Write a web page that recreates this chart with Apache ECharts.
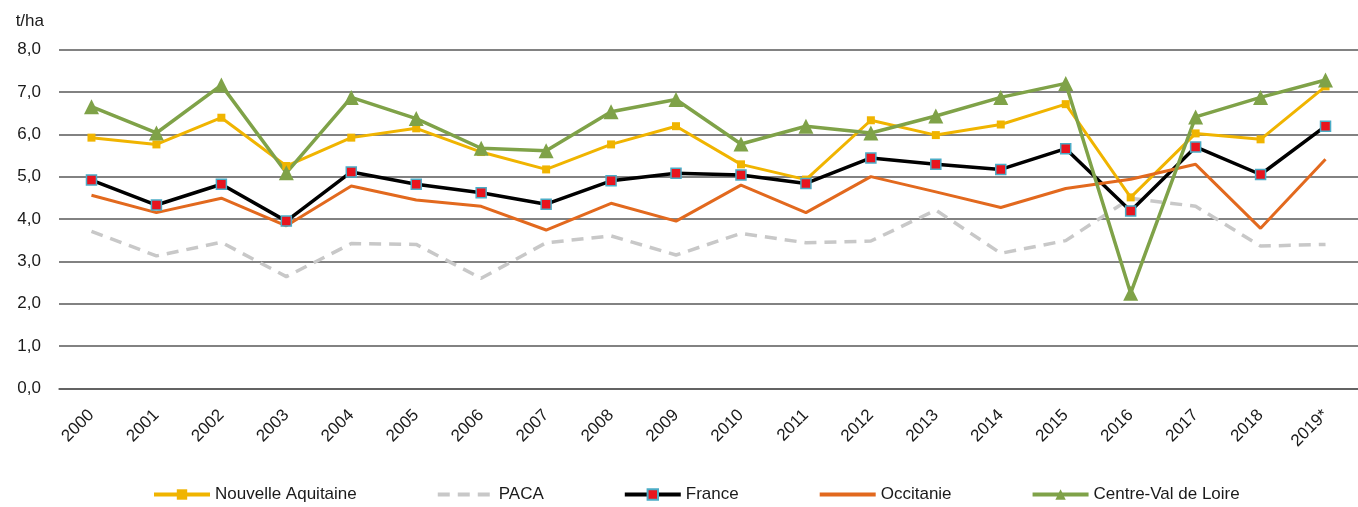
<!doctype html>
<html>
<head>
<meta charset="utf-8">
<title>Rendement t/ha</title>
<script src="https://cdn.jsdelivr.net/npm/echarts@6/dist/echarts.min.js"></script>
<style>
  html, body { margin: 0; padding: 0; background: #fff; }
  #chart { width: 1358px; height: 507px; }
</style>
</head>
<body>
<div id="chart"></div>
<script>
var years = ['2000','2001','2002','2003','2004','2005','2006','2007','2008','2009',
             '2010','2011','2012','2013','2014','2015','2016','2017','2018','2019*'];
var yTicks = [0, 1, 2, 3, 4, 5, 6, 7, 8];

var nouvelleAquitaine = [5.92, 5.76, 6.39, 5.25, 5.92, 6.14, 5.58, 5.17, 5.76, 6.19,
                         5.29, 4.93, 6.33, 5.98, 6.23, 6.71, 4.51, 6.02, 5.88, 7.13];
var paca              = [3.71, 3.13, 3.45, 2.64, 3.42, 3.40, 2.60, 3.44, 3.60, 3.15,
                         3.66, 3.44, 3.48, 4.21, 3.19, 3.49, 4.49, 4.30, 3.36, 3.40];
var france            = [4.92, 4.33, 4.82, 3.95, 5.11, 4.82, 4.62, 4.35, 4.90, 5.08,
                         5.04, 4.84, 5.44, 5.29, 5.17, 5.66, 4.19, 5.70, 5.05, 6.19];
var occitanie         = [4.56, 4.15, 4.49, 3.84, 4.78, 4.45, 4.30, 3.74, 4.37, 3.95,
                         4.80, 4.15, 5.00, 4.64, 4.27, 4.72, 4.94, 5.29, 3.78, 5.41];
var centreValDeLoire  = [6.65, 6.03, 7.16, 5.09, 6.87, 6.37, 5.67, 5.61, 6.53, 6.82,
                         5.77, 6.19, 6.03, 6.43, 6.87, 7.20, 2.25, 6.41, 6.87, 7.28];

var font = 'Liberation Sans';
var ink = '#1a1a1a';
var chart = echarts.init(document.getElementById('chart'));

var option = {
    animation: false,
    textStyle: { fontFamily: font, color: ink },
    grid: { left: 59, top: 49.5, width: 1308, bottom: 118.5 },
    legend: {
        left: 152, top: 486, padding: 0,
        itemWidth: 56, itemHeight: 13, itemGap: 79,
        lineStyle: { width: 4 },
        textStyle: { fontFamily: font, fontSize: 17, color: ink },
        data: [
            { name: 'Nouvelle Aquitaine' },
            { name: 'PACA', itemStyle: { opacity: 0 } },
            { name: 'France' },
            { name: 'Occitanie', itemStyle: { opacity: 0 } },
            { name: 'Centre-Val de Loire' }
        ]
    },
    xAxis: {
        type: 'category',
        data: years,
        axisLine: { lineStyle: { color: '#595959', width: 1.5 } },
        axisTick: { inside: true, length: 6, lineStyle: { color: '#595959', width: 1.5 } },
        axisLabel: { rotate: 45, fontSize: 17, color: ink, margin: 24, interval: 0 }
    },
    yAxis: {
        type: 'value',
        min: yTicks[0], max: yTicks[yTicks.length - 1], interval: 1,
        name: 't/ha', nameLocation: 'end', nameGap: 20,
        nameTextStyle: { fontSize: 17, color: ink, align: 'right', padding: [0, 15, 0, 0] },
        axisLine: { show: false },
        axisTick: { show: false },
        axisLabel: { fontSize: 17, color: ink, margin: 18,
            formatter: function (v) { return v.toFixed(1).replace('.', ','); } },
        splitLine: { lineStyle: { color: '#595959', width: 1.5 } }
    },
    series: [
        {
            name: 'Nouvelle Aquitaine', type: 'line', data: nouvelleAquitaine,
            symbol: 'rect', symbolSize: 8,
            itemStyle: { color: '#F0B400' },
            lineStyle: { color: '#F0B400', width: 3 }
        },
        {
            name: 'PACA', type: 'line', data: paca,
            symbol: 'none',
            itemStyle: { color: '#C8C8C8' },
            lineStyle: { color: '#C8C8C8', width: 3.5, type: [12, 8] }
        },
        {
            name: 'France', type: 'line', data: france,
            symbol: 'rect', symbolSize: 10,
            itemStyle: { color: '#E8141E', borderColor: '#4BACC6', borderWidth: 1.5 },
            lineStyle: { color: '#000', width: 3.5 }
        },
        {
            name: 'Occitanie', type: 'line', data: occitanie,
            symbol: 'none',
            itemStyle: { color: '#E2691E' },
            lineStyle: { color: '#E2691E', width: 3 }
        },
        {
            name: 'Centre-Val de Loire', type: 'line', data: centreValDeLoire,
            symbol: 'triangle', symbolSize: 15,
            itemStyle: { color: '#7FA248' },
            lineStyle: { color: '#7FA248', width: 3.5 }
        }
    ]
};
chart.setOption(option);
</script>
</body>
</html>
